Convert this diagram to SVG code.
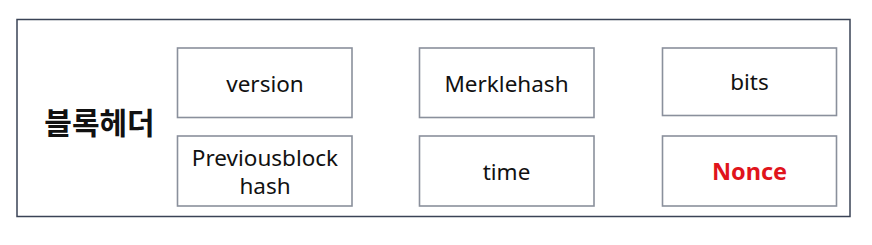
<svg xmlns="http://www.w3.org/2000/svg" width="872" height="245" viewBox="0 0 872 245">
<style>
.box{fill:#ffffff;stroke:#8a909c;stroke-width:1.6}
.t{font-family:"Noto Sans","Open Sans",sans-serif;font-size:22.5px;fill:#111111;text-anchor:middle}
.n{font-weight:bold;fill:#e0141c;font-size:23.5px}
.k{font-family:"Noto Sans CJK KR","Noto Sans",sans-serif;font-size:30px;font-weight:bold;fill:#111111;text-anchor:middle}
</style>
<rect width="872" height="245" fill="#ffffff"/>
<g id="blockheader">
<rect x="17" y="19.5" width="833" height="197" fill="#ffffff" stroke="#3a4356" stroke-width="1.5"/>
<text class="k" x="99.5" y="134">블록헤더</text>
</g>
<g id="version">
<rect class="box" x="177.5" y="48" width="174.5" height="69.5"/>
<text class="t" x="265" y="91.5">version</text>
</g>
<g id="merklehash">
<rect class="box" x="419.5" y="48" width="174.5" height="69.5"/>
<text class="t" x="506.5" y="92">Merklehash</text>
</g>
<g id="bits">
<rect class="box" x="662.5" y="48" width="174" height="67.5"/>
<text class="t" x="749.5" y="90">bits</text>
</g>
<g id="previousblockhash">
<rect class="box" x="177.5" y="136" width="174.5" height="70"/>
<text class="t" x="265" y="165.5">Previousblock</text>
<text class="t" x="265" y="194">hash</text>
</g>
<g id="time">
<rect class="box" x="419.5" y="136" width="174.5" height="70"/>
<text class="t" x="506.5" y="180">time</text>
</g>
<g id="nonce">
<rect class="box" x="662.5" y="136" width="174" height="70"/>
<text class="t n" x="749.5" y="179.5">Nonce</text>
</g>
<g id="connectors"></g>
</svg>
